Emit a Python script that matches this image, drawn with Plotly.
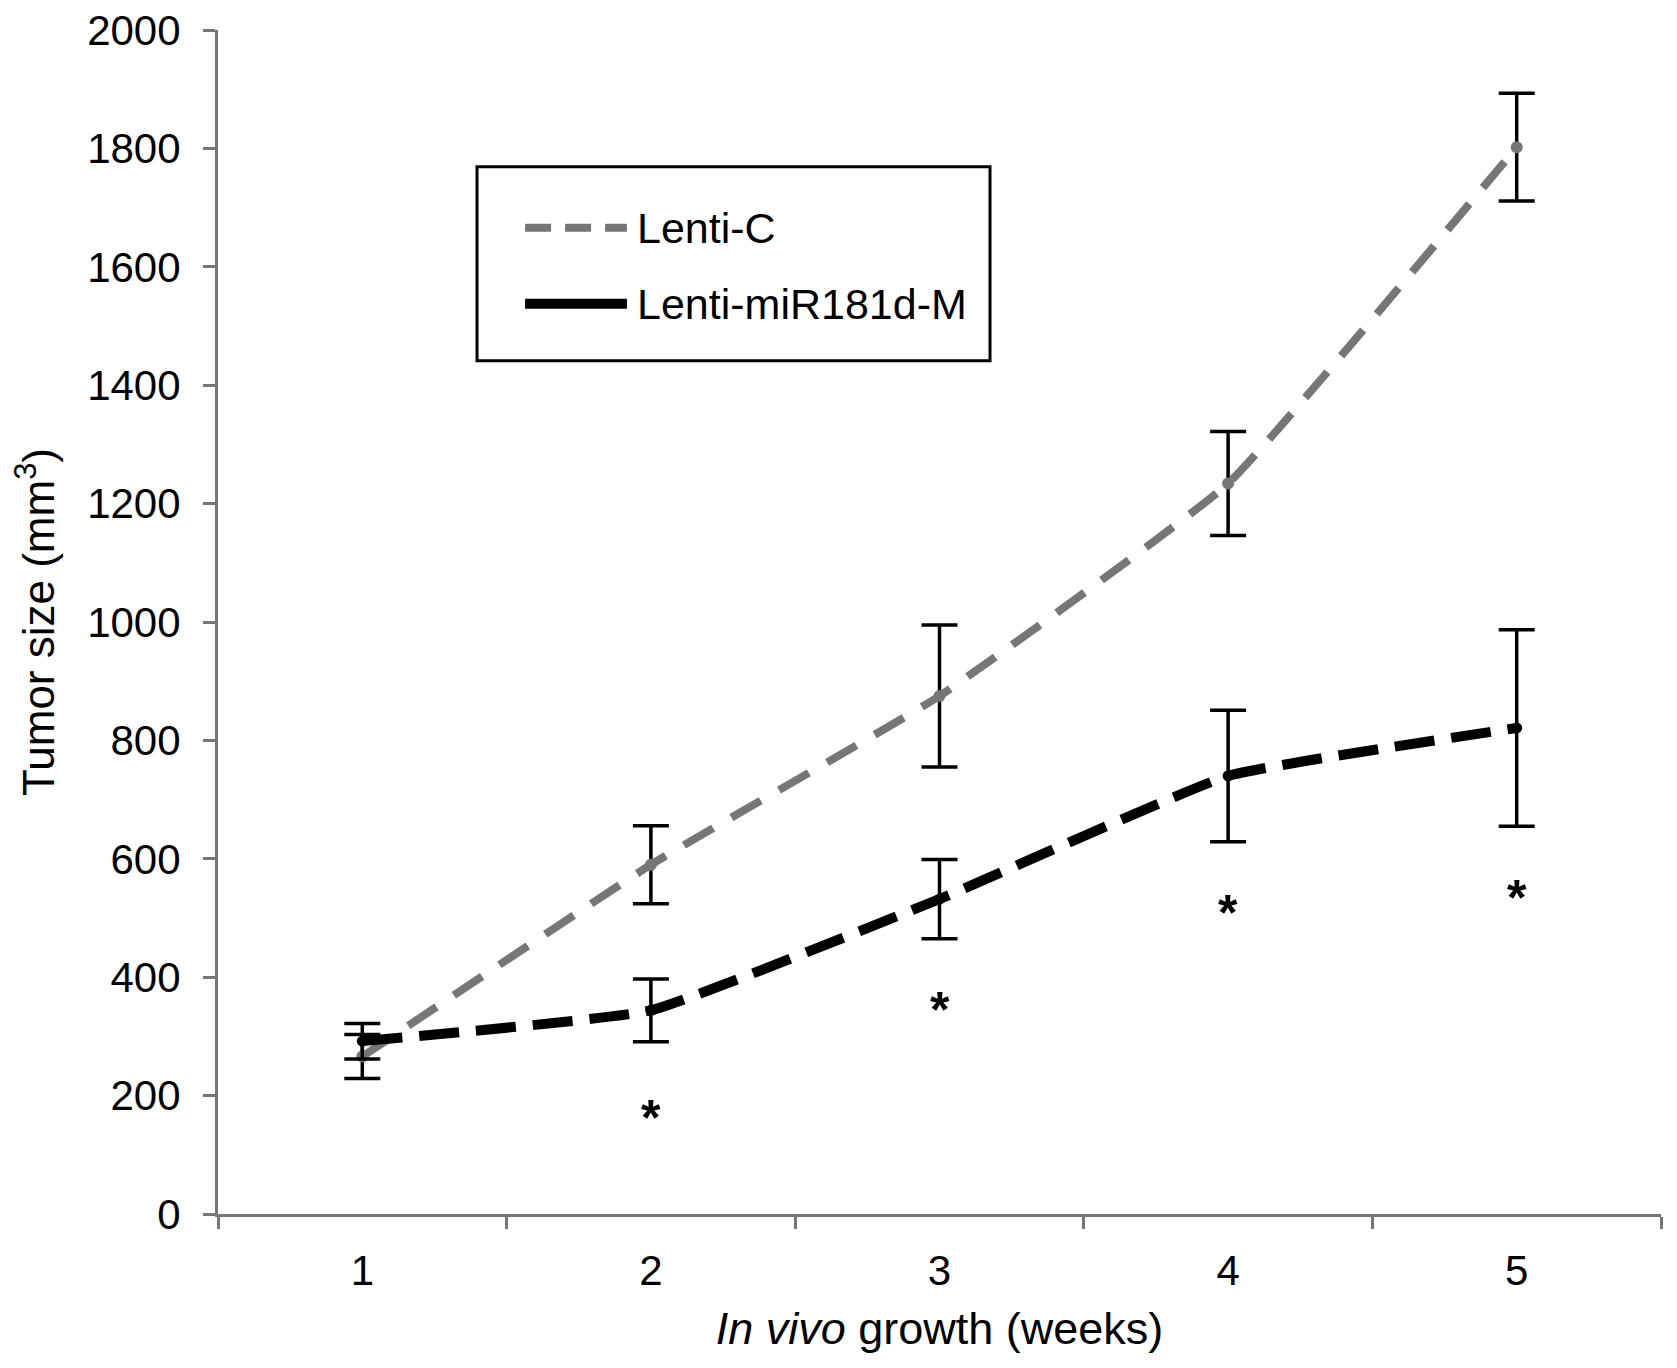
import plotly.graph_objects as go

weeks = [1, 2, 3, 4, 5]
week_labels = ["1", "2", "3", "4", "5"]
lenti_c = [266, 590, 875, 1234, 1802]
lenti_c_err = [37, 66, 120, 88, 91]
lenti_mir = [292, 344, 532, 740, 821]
lenti_mir_err = [30, 53, 67, 111, 166]
star_weeks = [2, 3, 4, 5]
star_y = [175, 358, 522, 547]
y_ticks = [0, 200, 400, 600, 800, 1000, 1200, 1400, 1600, 1800, 2000]
series_names = ["Lenti-C", "Lenti-miR181d-M"]

GREY = "#767676"
FONT = "Liberation Sans, Arial, sans-serif"

fig = go.Figure()

fig.add_trace(go.Scatter(
    x=weeks, y=lenti_c, name=series_names[0], mode="lines+markers",
    line=dict(color=GREY, width=8, dash="34px,21px", shape="spline", smoothing=0.35),
    marker=dict(color=GREY, size=12),
    error_y=dict(type="data", array=lenti_c_err, visible=True, color="black",
                 thickness=3.5, width=18),
    showlegend=False,
))
fig.add_trace(go.Scatter(
    x=weeks, y=lenti_mir, name=series_names[1], mode="lines+markers",
    line=dict(color="black", width=10, dash="40px,17px", shape="spline", smoothing=0.35),
    marker=dict(color="black", size=11),
    error_y=dict(type="data", array=lenti_mir_err, visible=True, color="black",
                 thickness=3.5, width=18),
    showlegend=False,
))

for xw, ys in zip(star_weeks, star_y):
    fig.add_annotation(x=xw, y=ys, text="<b>*</b>", showarrow=False,
                       font=dict(size=50, color="black", family=FONT),
                       yshift=-8)

# legend box (drawn in paper space, Excel-style)
fig.add_shape(type="rect", xref="paper", yref="paper",
              x0=0.1795, x1=0.535, y0=0.7207, y1=0.8844,
              line=dict(color="black", width=3), fillcolor="white", layer="above")
legend_rows = [0.833, 0.7688]
legend_styles = [dict(color=GREY, width=8, dash="26px,14px"),
                 dict(color="black", width=10)]
for name, yy, st in zip(series_names, legend_rows, legend_styles):
    fig.add_shape(type="line", xref="paper", yref="paper",
                  x0=0.2128, x1=0.2834, y0=yy, y1=yy, line=st, layer="above")
    fig.add_annotation(xref="paper", yref="paper", x=0.289, y=yy, text=name,
                       showarrow=False, xanchor="left", yanchor="middle",
                       font=dict(size=43, color="black", family=FONT))

fig.update_layout(
    width=1677, height=1368,
    margin=dict(l=210, r=24, t=22, b=162),
    paper_bgcolor="white", plot_bgcolor="white",
    font=dict(family=FONT, size=42, color="black"),
    showlegend=False,
    xaxis=dict(
        range=[0.5, 5.5], tickvals=weeks, ticktext=week_labels,
        ticks="", showgrid=False, zeroline=False, automargin=False,
        showline=True, linecolor=GREY, linewidth=3,
        tickfont=dict(size=42, family=FONT, color="black"),
        ticklabelstandoff=18,
        minor=dict(tickvals=[0.5, 1.5, 2.5, 3.5, 4.5, 5.5], ticks="outside",
                   ticklen=12, tickwidth=3, tickcolor=GREY, showgrid=False),
        title=dict(text="<i>In vivo</i> growth (weeks)", standoff=20,
                   font=dict(size=45, family=FONT, color="black")),
    ),
    yaxis=dict(
        range=[0, 2000], tickvals=y_ticks, ticks="outside", ticklen=12,
        tickwidth=3, tickcolor=GREY, showgrid=False, zeroline=False,
        automargin=False, ticklabeloverflow="allow",
        showline=True, linecolor=GREY, linewidth=3,
        tickfont=dict(size=42, family=FONT, color="black"),
        ticklabelstandoff=14,
        title=dict(text="Tumor size (mm<sup>3</sup>)", standoff=30,
                   font=dict(size=44, family=FONT, color="black")),
    ),
)

fig.write_html("out.html")
